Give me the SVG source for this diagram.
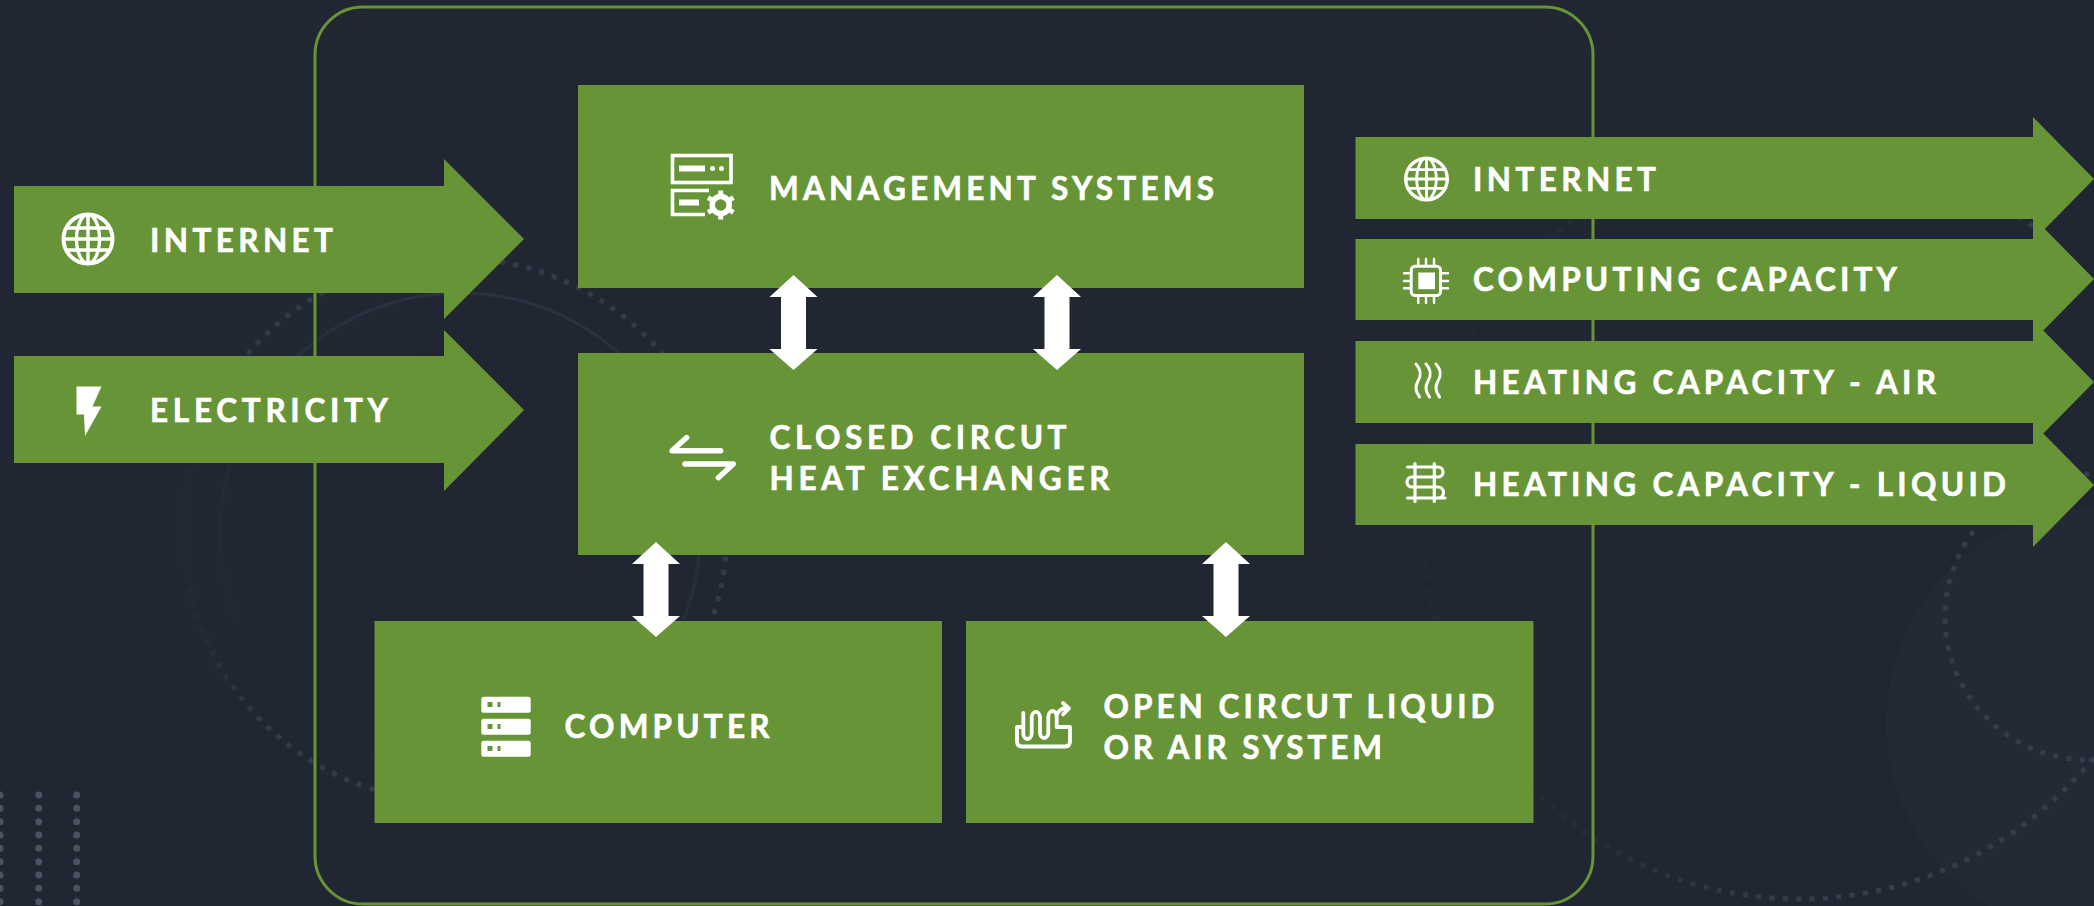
<svg xmlns="http://www.w3.org/2000/svg" width="2094" height="906" viewBox="0 0 2094 906">
<style>
.box{fill:#679436}
.lb{font-family:"Lato","Liberation Sans",sans-serif;font-weight:700;font-size:31.5px;fill:#fff;stroke:#fff;stroke-width:.6px}
.ln{fill:none;stroke:#fff;stroke-linecap:round;stroke-linejoin:round}
.wh{fill:#fff}
.gr{fill:#679436}
.dot{fill:#4a5361}
.dash{fill:none;stroke-width:5;stroke-dasharray:5 8.4}
</style>
<defs>
<linearGradient id="fadeC" gradientUnits="userSpaceOnUse" x1="185" y1="0" x2="265" y2="0"><stop offset="0" stop-color="#232a36"/><stop offset="1" stop-color="#323b49"/></linearGradient>
<linearGradient id="fadeR" gradientUnits="userSpaceOnUse" x1="260" y1="640" x2="440" y2="330"><stop offset="0" stop-color="#212834"/><stop offset="1" stop-color="#2a3240"/></linearGradient>
<linearGradient id="fadeB" gradientUnits="userSpaceOnUse" x1="1520" y1="0" x2="1800" y2="0"><stop offset="0" stop-color="#232a36"/><stop offset="1" stop-color="#343d4b"/></linearGradient>
<g id="globe"><circle r="24.5" fill="none" stroke="#fff" stroke-width="4"/><ellipse rx="11.5" ry="24.5" fill="none" stroke="#fff" stroke-width="3.4"/><path d="M0-24.5V24.5M-24.5 0H24.5M-21-11H21M-21 11H21" fill="none" stroke="#fff" stroke-width="3.4"/></g>
<path id="dbl" d="M0 0L24 22H12.5V74H24L0 95L-24 74H-12.5V22H-24Z" fill="#fff"/>
<path id="wave" d="M1416 364C1422 371 1421 376 1418 381C1415 386 1415 391 1419.5 397" fill="none" stroke="#fff" stroke-width="3" stroke-linecap="round"/>
</defs>
<rect width="2094" height="906" fill="#202733"/>
<g id="background">
<circle cx="83" cy="390" r="331" fill="#212834"/>
<circle cx="2101" cy="723" r="215" fill="#232a36"/>
<circle cx="460" cy="533" r="240" fill="none" stroke="url(#fadeR)" stroke-width="3"/>
<circle cx="455" cy="530" r="272" class="dash" stroke="url(#fadeC)"/>
<circle cx="1799" cy="522" r="377" class="dash" stroke="url(#fadeB)"/>
<circle cx="2088" cy="617" r="143" class="dash" stroke="#343d4b"/>
<g class="dot">
<circle cx="0" cy="795" r="3.5"/><circle cx="0" cy="808.3" r="3.5"/><circle cx="0" cy="821.7" r="3.5"/><circle cx="0" cy="835" r="3.5"/><circle cx="0" cy="848.3" r="3.5"/><circle cx="0" cy="861.7" r="3.5"/><circle cx="0" cy="875" r="3.5"/><circle cx="0" cy="888.3" r="3.5"/><circle cx="0" cy="901.7" r="3.5"/>
<circle cx="38.7" cy="795" r="3.5"/><circle cx="38.7" cy="808.3" r="3.5"/><circle cx="38.7" cy="821.7" r="3.5"/><circle cx="38.7" cy="835" r="3.5"/><circle cx="38.7" cy="848.3" r="3.5"/><circle cx="38.7" cy="861.7" r="3.5"/><circle cx="38.7" cy="875" r="3.5"/><circle cx="38.7" cy="888.3" r="3.5"/><circle cx="38.7" cy="901.7" r="3.5"/>
<circle cx="76.7" cy="795" r="3.5"/><circle cx="76.7" cy="808.3" r="3.5"/><circle cx="76.7" cy="821.7" r="3.5"/><circle cx="76.7" cy="835" r="3.5"/><circle cx="76.7" cy="848.3" r="3.5"/><circle cx="76.7" cy="861.7" r="3.5"/><circle cx="76.7" cy="875" r="3.5"/><circle cx="76.7" cy="888.3" r="3.5"/><circle cx="76.7" cy="901.7" r="3.5"/>
</g>
</g>
<g id="frame"><rect x="315" y="7" width="1278" height="897" rx="48" fill="none" stroke="#679436" stroke-width="3"/></g>

<g id="in-internet">
<path class="box" d="M14 186H444V159L524 239L444 319V293H14Z"/>
<use href="#globe" transform="translate(88 239)"/>
<text class="lb" x="150" y="252" textLength="183">INTERNET</text>
</g>
<g id="in-electricity">
<path class="box" d="M14 356H444V330L524 410L444 491V463H14Z"/>
<path class="wh" d="M76.5 386.5H101.5L92.5 406.5H101.5L85 436L84 414.5H76.5Z"/>
<text class="lb" x="150" y="422" textLength="238">ELECTRICITY</text>
</g>

<g id="management-systems">
<rect class="box" x="578" y="85" width="726" height="203"/>
<rect x="672.5" y="155.5" width="58.5" height="27" fill="none" stroke="#fff" stroke-width="3.6"/>
<rect class="wh" x="679" y="165.5" width="26" height="6"/><circle class="wh" cx="712.5" cy="168.5" r="2.5"/><circle class="wh" cx="721.5" cy="168.5" r="2.5"/>
<path d="M709 190.5H672.5V214.5H705" fill="none" stroke="#fff" stroke-width="3.6"/>
<rect class="wh" x="679" y="199.5" width="20" height="6"/>
<circle cx="720.7" cy="205" r="8.5" fill="none" stroke="#fff" stroke-width="5.5"/>
<path d="M720.7 190.5V219.5M708 197.7L733.4 212.3M708 212.3L733.4 197.7" fill="none" stroke="#fff" stroke-width="5" stroke-dasharray="4.5 20.5"/>
<text class="lb" x="769" y="200" textLength="445">MANAGEMENT SYSTEMS</text>
</g>

<g id="heat-exchanger">
<rect class="box" x="578" y="353" width="726" height="202"/>
<path class="ln" stroke-width="5.4" d="M720.7 450.7H672L686.7 437.5M685 464H733.3L718.3 477.7"/>
<text class="lb" x="769.5" y="448.5" textLength="297">CLOSED CIRCUT</text>
<text class="lb" x="769.5" y="490" textLength="340">HEAT EXCHANGER</text>
</g>

<g id="computer">
<rect class="box" x="374.5" y="621" width="567.5" height="202"/>
<rect class="wh" x="481.3" y="696.7" width="49.4" height="16" rx="2.5"/><rect class="wh" x="481.3" y="718.7" width="49.4" height="16" rx="2.5"/><rect class="wh" x="481.3" y="740.7" width="49.4" height="16" rx="2.5"/>
<path class="gr" d="M487.5 702h5v5h-5zM497.5 702h3v5h-3zM487.5 724h5v5h-5zM497.5 724h3v5h-3zM487.5 746h5v5h-5zM497.5 746h3v5h-3z"/>
<text class="lb" x="564.5" y="737.5" textLength="205">COMPUTER</text>
</g>

<g id="open-circuit">
<rect class="box" x="966" y="621" width="567.5" height="202"/>
<path class="ln" stroke-width="3.8" d="M1023 727H1017V741Q1017 746.5 1022 746.5H1065Q1070 746.5 1070 741V727H1057"/>
<path class="ln" stroke-width="3.8" d="M1023.3 713V733a4.2 6 0 0 0 8.4 0V717a4.2 6 0 0 1 8.3 0V733a4.2 6 0 0 0 8.3 0V717a4.2 6 0 0 1 8.4 0V727M1056.7 716Q1058 708 1068 708M1063 703L1069 708.5L1063 714.5"/>
<text class="lb" x="1103.5" y="717.5" textLength="391">OPEN CIRCUT LIQUID</text>
<text class="lb" x="1103.5" y="758.5" textLength="278.5">OR AIR SYSTEM</text>
</g>

<g id="out-internet">
<path class="box" d="M1355.5 137H2033V117L2094 179L2033 241V219H1355.5Z"/>
<use href="#globe" transform="translate(1426.5 179) scale(.85)"/>
<text class="lb" x="1473" y="190.5" textLength="183">INTERNET</text>
</g>
<g id="out-computing">
<path class="box" d="M1355.5 239H2033V217L2094 279L2033 341V320H1355.5Z"/>
<rect x="1411.2" y="266.2" width="29.3" height="29.3" rx="4" fill="none" stroke="#fff" stroke-width="3"/>
<rect class="wh" x="1418.3" y="272.5" width="16.7" height="16.7"/>
<path class="ln" stroke-width="2.4" d="M1418.3 259V265M1426 259V265M1434 259V265M1418.3 297V303M1426 297V303M1434 297V303M1404 273.3H1410M1404 281H1410M1404 288.3H1410M1442 273.3H1448M1442 281H1448M1442 288.3H1448"/>
<text class="lb" x="1473" y="290.5" textLength="424">COMPUTING CAPACITY</text>
</g>
<g id="out-heating-air">
<path class="box" d="M1355.5 341H2033V320L2094 382L2033 444V423H1355.5Z"/>
<use href="#wave"/><use href="#wave" x="10"/><use href="#wave" x="20"/>
<text class="lb" x="1473" y="393.5" textLength="463">HEATING CAPACITY - AIR</text>
</g>
<g id="out-heating-liquid">
<path class="box" d="M1355.5 444H2033V423L2094 485L2033 547V525H1355.5Z"/>
<path class="ln" stroke-width="3.2" d="M1407.5 467H1438a5 5 0 0 1 0 10H1412a5 5 0 0 0 0 10H1438a5.5 5.5 0 0 1 0 11M1407.5 498H1445M1415 463.5V501.5M1434.3 463.5V501.5"/>
<text class="lb" x="1473" y="495.5" textLength="533">HEATING CAPACITY - LIQUID</text>
</g>

<g id="connectors">
<use href="#dbl" transform="translate(793.5 275)"/>
<use href="#dbl" transform="translate(1057 275)"/>
<use href="#dbl" transform="translate(656 542)"/>
<use href="#dbl" transform="translate(1226 542)"/>
</g>
</svg>
